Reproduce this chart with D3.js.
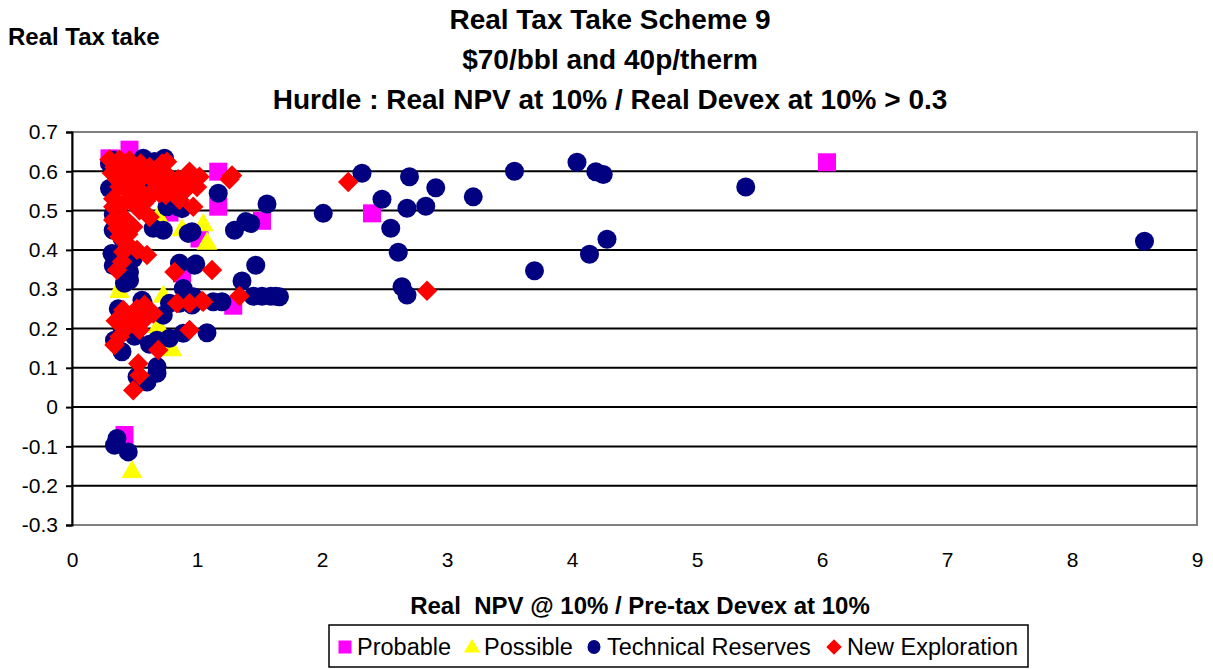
<html lang="en">
<head>
<meta charset="UTF-8">
<title>Real Tax Take Scheme 9</title>
<script src="https://cdn.jsdelivr.net/npm/d3@7"></script>
<style>
  body { margin: 0; background: #fff; }
  text { font-family: "Liberation Sans", Arial, sans-serif; }
</style>
</head>
<body>
<svg id="chart" width="1213" height="669"></svg>
<script>
// values, [npv/devex ratio, real tax take]
var probable = [[0.30,0.633],[0.46,0.655],[0.69,0.595],[1.17,0.599],[1.17,0.510],[1.52,0.474],
  [2.40,0.493],[6.04,0.623],[1.02,0.429],[1.29,0.258],[0.42,-0.071],[0.88,0.34],[0.78,0.495],[0.60,0.545]];

var possible = [[1.05,0.463],[1.08,0.416],[0.88,0.45],[0.69,0.484],[0.38,0.293],[0.73,0.281],
  [0.69,0.204],[0.80,0.145],[0.48,-0.165],[0.40,0.31]];

var technical = [[2.32,0.595],[2.70,0.586],[2.91,0.558],[3.21,0.535],[2.48,0.529],[2.01,0.493],
  [2.68,0.506],[2.83,0.511],[2.55,0.455],[2.61,0.394],[2.64,0.306],[2.68,0.285],[1.66,0.281],
  [3.54,0.600],[4.04,0.623],[4.19,0.599],[4.25,0.592],[4.28,0.427],[4.14,0.389],[3.70,0.347],
  [5.39,0.560],[8.58,0.422],
  [1.17,0.544],[1.56,0.517],[1.43,0.467],[1.39,0.472],[1.30,0.450],[0.96,0.446],[0.99,0.364],
  [1.47,0.361],[1.36,0.321],[1.45,0.282],[1.52,0.282],[1.59,0.282],[1.63,0.282],[1.13,0.268],
  [1.20,0.268],[0.96,0.26],[1.08,0.189],
  [0.33,0.628],[0.57,0.633],[0.74,0.633],[0.30,0.556],[0.93,0.442],[0.73,0.450],[0.65,0.455],
  [0.32,0.391],[0.42,0.382],[0.49,0.378],[0.46,0.344],[0.46,0.323],[0.42,0.315],[0.86,0.366],
  [0.98,0.361],[0.57,0.264],[0.78,0.264],[0.86,0.264],[0.89,0.188],[0.56,0.272],[0.73,0.234],
  [0.68,0.170],[0.78,0.175],[0.34,0.17],[0.40,0.141],[0.68,0.103],[0.68,0.086],[0.60,0.064],
  [0.52,0.077],[0.36,-0.080],[0.34,-0.097],[0.45,-0.114],[0.89,0.302],[0.97,0.281],
  [0.30,0.62],[0.36,0.60],[0.42,0.57],[0.50,0.60],[0.60,0.58],[0.66,0.625],[0.80,0.55],
  [0.85,0.51],[0.76,0.51],[0.88,0.505],[0.33,0.45],[0.33,0.49],[0.40,0.43],[0.33,0.36],
  [0.50,0.18],[0.45,0.22],[0.37,0.25],[0.62,0.16],[0.40,0.20]];

var exploration = [[0.30,0.63],[0.34,0.61],[0.38,0.63],[0.42,0.62],[0.46,0.628],[0.50,0.61],
  [0.55,0.62],[0.62,0.611],[0.68,0.60],[0.72,0.62],[0.76,0.624],[0.32,0.595],[0.36,0.58],
  [0.40,0.59],[0.44,0.57],[0.48,0.585],[0.52,0.575],[0.58,0.59],[0.64,0.58],[0.70,0.575],
  [0.78,0.585],[0.85,0.58],[0.94,0.599],[1.02,0.586],[0.92,0.569],[0.81,0.561],[0.70,0.544],
  [0.54,0.552],[0.38,0.561],[0.46,0.545],[0.62,0.535],[0.33,0.53],[0.42,0.52],[0.50,0.515],
  [0.33,0.51],[0.41,0.484],[0.49,0.459],[0.38,0.433],[0.54,0.501],[0.97,0.51],[0.86,0.527],
  [0.62,0.484],[0.33,0.476],[0.44,0.416],[0.52,0.40],[0.36,0.455],[0.45,0.44],[0.58,0.52],
  [0.66,0.555],[0.75,0.54],[0.90,0.55],[1.00,0.56],[1.28,0.589],[1.26,0.58],
  [2.21,0.573],[2.84,0.296],[1.12,0.349],[1.34,0.283],[1.04,0.270],[0.94,0.196],[0.82,0.344],
  [0.84,0.264],[0.94,0.264],[1.05,0.268],[0.69,0.145],[0.34,0.158],[0.53,0.111],[0.54,0.081],
  [0.49,0.043],[0.41,0.395],[0.36,0.349],[0.60,0.387],[0.41,0.247],[0.49,0.230],[0.60,0.247],
  [0.65,0.238],[0.44,0.204],[0.54,0.196],[0.38,0.179],[0.46,0.225],[0.52,0.25],[0.57,0.22],
  [0.35,0.22],[0.40,0.37],[0.58,0.26]];

var xTicks = [0,1,2,3,4,5,6,7,8,9];
var yTicks = [-0.3,-0.2,-0.1,0,0.1,0.2,0.3,0.4,0.5,0.6,0.7];
var titleLines = ["Real Tax Take Scheme 9", "$70/bbl and 40p/therm",
  "Hurdle : Real NPV at 10% / Real Devex at 10% > 0.3"];

function draw() {
  var svg = d3.select("#chart");
  var pLeft = 72, pRight = 1197, pTop = 132, pBottom = 525;

  var x = d3.scaleLinear().domain([0, 9]).range([pLeft, pRight]);
  var y = d3.scaleLinear().domain([-0.3, 0.7]).range([pBottom, pTop]);

  // plot frame + gridlines
  svg.append("rect").attr("x", pLeft).attr("y", pTop)
    .attr("width", pRight - pLeft).attr("height", pBottom - pTop)
    .attr("fill", "none").attr("stroke", "#808080").attr("stroke-width", 2);

  svg.append("g").selectAll("line")
    .data(yTicks.filter(function(d){ return d > -0.3 && d < 0.7; }))
    .enter().append("line")
    .attr("x1", pLeft).attr("x2", pRight)
    .attr("y1", function(d){ return y(d); }).attr("y2", function(d){ return y(d); })
    .attr("stroke", "#000").attr("stroke-width", 2);

  var yAxis = svg.append("g").attr("transform", "translate(" + pLeft + ",0)")
    .call(d3.axisLeft(y).tickValues(yTicks).tickSize(6).tickPadding(8)
      .tickFormat(function(d){ return String(+d.toFixed(1)); }));
  yAxis.select(".domain").attr("stroke", "#000").attr("stroke-width", 2);
  yAxis.selectAll(".tick line").attr("stroke", "#000").attr("stroke-width", 2);
  yAxis.selectAll("text").style("font-size", "21px").attr("fill", "#000");

  var xAxis = svg.append("g").attr("transform", "translate(0," + pBottom + ")")
    .call(d3.axisBottom(x).tickValues(xTicks).tickSize(0).tickPadding(27));
  xAxis.select(".domain").remove();
  xAxis.selectAll("text").style("font-size", "21px").attr("fill", "#000");

  // markers, drawn in series order
  var plot = svg.append("g");

  plot.append("g").selectAll("path").data(probable).enter().append("path")
    .attr("d", d3.symbol().type(d3.symbolSquare).size(18 * 18))
    .attr("transform", function(d){ return "translate(" + x(d[0]) + "," + y(d[1]) + ")"; })
    .attr("fill", "#ff00ff");

  plot.append("g").selectAll("path").data(possible).enter().append("path")
    .attr("d", d3.symbol().type(d3.symbolTriangle).size(190))
    .attr("transform", function(d){ return "translate(" + x(d[0]) + "," + y(d[1]) + ")"; })
    .attr("fill", "#ffff00");

  plot.append("g").selectAll("circle").data(technical).enter().append("circle")
    .attr("cx", function(d){ return x(d[0]); })
    .attr("cy", function(d){ return y(d[1]); })
    .attr("r", 9.5)
    .attr("fill", "#000080");

  plot.append("g").selectAll("path").data(exploration).enter().append("path")
    .attr("d", d3.symbol().type(d3.symbolSquare).size(14.5 * 14.5))
    .attr("transform", function(d){ return "translate(" + x(d[0]) + "," + y(d[1]) + ") rotate(45)"; })
    .attr("fill", "#ff0000");

  // titles
  svg.append("g").selectAll("text").data(titleLines).enter().append("text")
    .attr("x", 610).attr("y", function(d, i){ return 29 + i * 40; })
    .attr("text-anchor", "middle")
    .style("font-size", "28px").style("font-weight", "bold")
    .text(function(d){ return d; });

  svg.append("text").attr("x", 8).attr("y", 45)
    .style("font-size", "24px").style("font-weight", "bold")
    .text("Real Tax take");

  svg.append("text").attr("x", 640).attr("y", 614)
    .attr("text-anchor", "middle").attr("xml:space", "preserve")
    .style("font-size", "24px").style("font-weight", "bold")
    .text("Real  NPV @ 10% / Pre-tax Devex at 10%");

  // legend
  var legend = svg.append("g");
  legend.append("rect").attr("x", 329).attr("y", 625).attr("width", 699).attr("height", 42)
    .attr("fill", "#fff").attr("stroke", "#000").attr("stroke-width", 1.5);

  var legendItems = [
    {name: "Probable", color: "#ff00ff", shape: "square", mx: 345, tx: 357},
    {name: "Possible", color: "#ffff00", shape: "triangle", mx: 472, tx: 484},
    {name: "Technical Reserves", color: "#000080", shape: "circle", mx: 594, tx: 607},
    {name: "New Exploration", color: "#ff0000", shape: "diamond", mx: 834, tx: 847}
  ];
  var ly = 647;
  legendItems.forEach(function(it){
    if (it.shape == "square") {
      legend.append("path").attr("d", d3.symbol().type(d3.symbolSquare).size(13 * 13)())
        .attr("transform", "translate(" + it.mx + "," + ly + ")").attr("fill", it.color);
    } else if (it.shape == "triangle") {
      legend.append("path").attr("d", d3.symbol().type(d3.symbolTriangle).size(110)())
        .attr("transform", "translate(" + it.mx + "," + (ly + 1) + ")").attr("fill", it.color);
    } else if (it.shape == "circle") {
      legend.append("ellipse").attr("cx", it.mx).attr("cy", ly).attr("rx", 6.5).attr("ry", 7)
        .attr("fill", it.color);
    } else {
      legend.append("path").attr("d", d3.symbol().type(d3.symbolSquare).size(11 * 11)())
        .attr("transform", "translate(" + it.mx + "," + ly + ") rotate(45)").attr("fill", it.color);
    }
    legend.append("text").attr("x", it.tx).attr("y", ly + 8)
      .style("font-size", "23.5px").text(it.name);
  });
}

draw();
</script>
</body>
</html>
